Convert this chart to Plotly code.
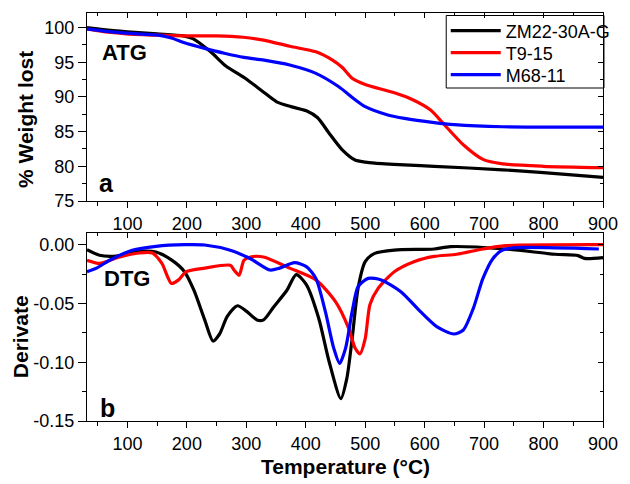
import plotly.graph_objects as go

# ---------------- data ----------------
atg_black_T = [32, 60, 100, 150, 194, 210, 240, 265, 298, 326, 351, 375, 401, 420, 439, 461, 483, 500, 516, 566, 616, 731, 800, 900]
atg_black_W = [100.0, 99.7, 99.4, 99.1, 98.8, 98.4, 96.5, 94.5, 92.7, 90.9, 89.3, 88.6, 88.0, 87.0, 84.8, 82.4, 80.9, 80.6, 80.45, 80.2, 80.0, 79.5, 79.1, 78.4]

atg_red_T = [32, 60, 98, 152, 196, 250, 295, 329, 373, 417, 445, 462, 478, 500, 549, 580, 610, 632, 665, 698, 731, 800, 900]
atg_red_W = [99.8, 99.4, 99.1, 98.9, 98.8, 98.8, 98.6, 98.2, 97.3, 96.5, 95.3, 94.2, 92.7, 91.8, 90.6, 89.6, 88.1, 86.1, 83.1, 81.0, 80.35, 80.0, 79.8]

atg_blue_T = [32, 60, 98, 152, 174, 196, 230, 263, 296, 330, 373, 417, 455, 483, 500, 538, 566, 616, 650, 731, 900]
atg_blue_W = [99.8, 99.5, 99.2, 98.9, 98.5, 97.8, 97.0, 96.3, 95.7, 95.3, 94.6, 93.4, 91.5, 89.6, 88.6, 87.4, 86.9, 86.3, 86.0, 85.7, 85.65]

dtg_black_T = [32, 53, 81, 120, 148, 174, 196, 212, 230, 244, 255, 268, 285, 301, 318, 329, 346, 368, 384, 401, 422, 439, 459, 469, 478, 488, 500, 516, 549, 616, 643, 736, 819, 858, 869, 900]
dtg_black_D = [-0.0043, -0.009, -0.0097, -0.0057, -0.0063, -0.013, -0.023, -0.039, -0.064, -0.082, -0.076, -0.061, -0.052, -0.057, -0.064, -0.064, -0.053, -0.039, -0.0255, -0.034, -0.063, -0.099, -0.131, -0.114, -0.080, -0.037, -0.0145, -0.0074, -0.0046, -0.0037, -0.0017, -0.0037, -0.0082, -0.0093, -0.0117, -0.011]

dtg_red_T = [32, 53, 87, 120, 142, 158, 174, 186, 199, 230, 273, 280, 288, 296, 307, 329, 373, 417, 450, 472, 483, 491, 500, 508, 522, 549, 582, 616, 654, 698, 736, 900]
dtg_red_D = [-0.0133, -0.016, -0.0105, -0.0071, -0.0071, -0.016, -0.033, -0.030, -0.023, -0.020, -0.0176, -0.022, -0.026, -0.0133, -0.0105, -0.0105, -0.020, -0.030, -0.0485, -0.071, -0.088, -0.093, -0.080, -0.051, -0.037, -0.023, -0.0145, -0.010, -0.0082, -0.0037, -0.0009, 0.0]

dtg_blue_T = [32, 48, 70, 108, 148, 196, 230, 273, 307, 340, 356, 381, 401, 417, 433, 447, 457, 467, 478, 488, 505, 527, 560, 593, 621, 649, 665, 682, 698, 715, 731, 753, 893]
dtg_blue_D = [-0.023, -0.020, -0.0133, -0.0048, -0.0014, 0.0, -0.0003, -0.0048, -0.012, -0.0216, -0.020, -0.0153, -0.0187, -0.0287, -0.057, -0.088, -0.101, -0.088, -0.057, -0.0357, -0.0287, -0.030, -0.040, -0.057, -0.070, -0.076, -0.0726, -0.054, -0.0287, -0.0117, -0.0046, -0.0026, -0.0037]

series_names = ["ZM22-30A-G", "T9-15", "M68-11"]
series_colors = ["#000000", "#FF0000", "#0000FF"]

x_range = [32, 900]
y1_range = [75, 102.1]
y2_range = [-0.15, 0.0099]
x_tickvals = [100, 200, 300, 400, 500, 600, 700, 800, 900]
y1_tickvals = [75, 80, 85, 90, 95, 100]
y2_tickvals = [-0.15, -0.10, -0.05, 0.00]
y2_ticktext = ["-0.15", "-0.10", "-0.05", "0.00"]

# ---------------- figure ----------------
FONT = "Arial, 'Liberation Sans', sans-serif"
fig = go.Figure()
LW = 3.2

L, R, T, B = 87, 18, 13, 63
W, H = 630, 484
ph = H - T - B


def px_x(px):
    return (px - L) / (W - L - R)


def px_y(py):
    return (H - B - py) / ph


atg = [(atg_black_T, atg_black_W), (atg_red_T, atg_red_W), (atg_blue_T, atg_blue_W)]
dtg = [(dtg_black_T, dtg_black_D), (dtg_red_T, dtg_red_D), (dtg_blue_T, dtg_blue_D)]
legend_ids = ["legend", "legend2", "legend3"]

for (t, w), name, col, lg in zip(atg, series_names, series_colors, legend_ids):
    fig.add_trace(go.Scatter(x=t, y=w, mode="lines", name=name, legend=lg,
                             line=dict(color=col, width=LW, shape="spline", smoothing=0.7),
                             xaxis="x", yaxis="y"))
for (t, d), name, col in zip(dtg, series_names, series_colors):
    fig.add_trace(go.Scatter(x=t, y=d, mode="lines", name=name, showlegend=False,
                             line=dict(color=col, width=LW, shape="spline", smoothing=0.7),
                             xaxis="x2", yaxis="y2"))

top_dom = [(H - B - 201) / ph, 1.0]
bot_dom = [0.0, (H - B - 233) / ph]

tickfont = dict(family=FONT, size=18, color="black")
base_x = dict(range=x_range, tickvals=x_tickvals, ticks="outside", ticklen=6, tickwidth=1,
              tickcolor="black", showline=True, linecolor="black", linewidth=1.3,
              showgrid=False, zeroline=False, tickfont=tickfont,
              minor=dict(dtick=50, tick0=0, ticks="outside", ticklen=4, tickcolor="black", showgrid=False))
inner_x = dict(range=x_range, tickvals=x_tickvals, ticks="inside", ticklen=5, tickwidth=1,
               tickcolor="black", showline=False, showgrid=False, zeroline=False,
               showticklabels=False, side="top",
               minor=dict(dtick=50, tick0=0, ticks="inside", ticklen=3, tickcolor="black", showgrid=False))

leg_rows = [31, 53, 75]
legend_common = dict(x=px_x(452), xanchor="left", yanchor="middle", bgcolor="rgba(0,0,0,0)",
                     borderwidth=0, font=dict(family=FONT, size=18, color="black"), itemwidth=50)

fig.update_layout(
    width=W, height=H, autosize=False,
    margin=dict(l=L, r=R, t=T, b=B, pad=0),
    paper_bgcolor="white", plot_bgcolor="white",
    font=dict(family=FONT, color="black"),
    xaxis=dict(base_x, domain=[0, 1], anchor="y", mirror=True),
    yaxis=dict(domain=top_dom, range=y1_range, tickvals=y1_tickvals, ticks="outside", ticklen=8,
               tickcolor="black", showline=True, linecolor="black", linewidth=1.3, mirror=True,
               showgrid=False, zeroline=False, tickfont=tickfont, anchor="x",
               minor=dict(dtick=2.5, ticks="outside", ticklen=4, tickcolor="black", showgrid=False)),
    xaxis2=dict(base_x, domain=[0, 1], anchor="y2", mirror=True),
    yaxis2=dict(domain=bot_dom, range=y2_range, tickvals=y2_tickvals, ticktext=y2_ticktext,
                ticks="outside", ticklen=8, tickcolor="black", showline=True, linecolor="black",
                linewidth=1.3, mirror=True, showgrid=False, zeroline=False, tickfont=tickfont,
                anchor="x2",
                minor=dict(dtick=0.025, tick0=0, ticks="outside", ticklen=4, tickcolor="black", showgrid=False)),
    xaxis3=dict(inner_x, overlaying="x", anchor="y"),
    xaxis4=dict(inner_x, overlaying="x2", anchor="y2"),
    yaxis3=dict(range=y1_range, tickvals=y1_tickvals, ticks="inside", ticklen=5, tickcolor="black",
                showline=False, showgrid=False, zeroline=False, showticklabels=False,
                overlaying="y", side="right", anchor="x",
                minor=dict(dtick=2.5, ticks="inside", ticklen=3, tickcolor="black", showgrid=False)),
    yaxis4=dict(range=y2_range, tickvals=y2_tickvals, ticks="inside", ticklen=5, tickcolor="black",
                showline=False, showgrid=False, zeroline=False, showticklabels=False,
                overlaying="y2", side="right", anchor="x2",
                minor=dict(dtick=0.025, tick0=0, ticks="inside", ticklen=3, tickcolor="black", showgrid=False)),
    legend=dict(legend_common, y=px_y(leg_rows[0])),
    legend2=dict(legend_common, y=px_y(leg_rows[1])),
    legend3=dict(legend_common, y=px_y(leg_rows[2])),
    showlegend=True,
)

# legend frame
fig.add_shape(type="rect", xref="paper", yref="paper",
              x0=px_x(452.5), x1=px_x(613), y0=px_y(88), y1=px_y(15.5),
              line=dict(color="black", width=1), fillcolor="white", layer="below")

# invisible anchors so the overlay tick axes get drawn
for xa, ya, yr in [("x3", "y", y1_range), ("x4", "y2", y2_range), ("x", "y3", y1_range), ("x2", "y4", y2_range)]:
    fig.add_trace(go.Scatter(x=[x_range[0]], y=[yr[0]], mode="markers", marker=dict(opacity=0),
                             showlegend=False, hoverinfo="skip", xaxis=xa, yaxis=ya))

ann = [
    dict(text="<b>ATG</b>", x=px_x(125), y=px_y(52), size=22),
    dict(text="<b>a</b>", x=px_x(107), y=px_y(183), size=25),
    dict(text="<b>DTG</b>", x=px_x(128), y=px_y(278), size=22),
    dict(text="<b>b</b>", x=px_x(108), y=px_y(408), size=25),
]
for a in ann:
    fig.add_annotation(text=a["text"], x=a["x"], y=a["y"], xref="paper", yref="paper",
                       showarrow=False, xanchor="center", yanchor="middle",
                       font=dict(family=FONT, size=a["size"], color="black"))

fig.add_annotation(text="<b>% Weight lost</b>", x=px_x(25), y=px_y(120), xref="paper", yref="paper",
                   showarrow=False, textangle=-90, xanchor="center", yanchor="middle",
                   font=dict(family=FONT, size=21, color="black"))
fig.add_annotation(text="<b>Derivate</b>", x=px_x(19), y=px_y(337), xref="paper", yref="paper",
                   showarrow=False, textangle=-90, xanchor="center", yanchor="middle",
                   font=dict(family=FONT, size=21, color="black"))
fig.add_annotation(text="<b>Temperature (°C)</b>", x=px_x(350), y=px_y(466), xref="paper", yref="paper",
                   showarrow=False, xanchor="center", yanchor="middle",
                   font=dict(family=FONT, size=21, color="black"))

fig.write_html("out.html")
